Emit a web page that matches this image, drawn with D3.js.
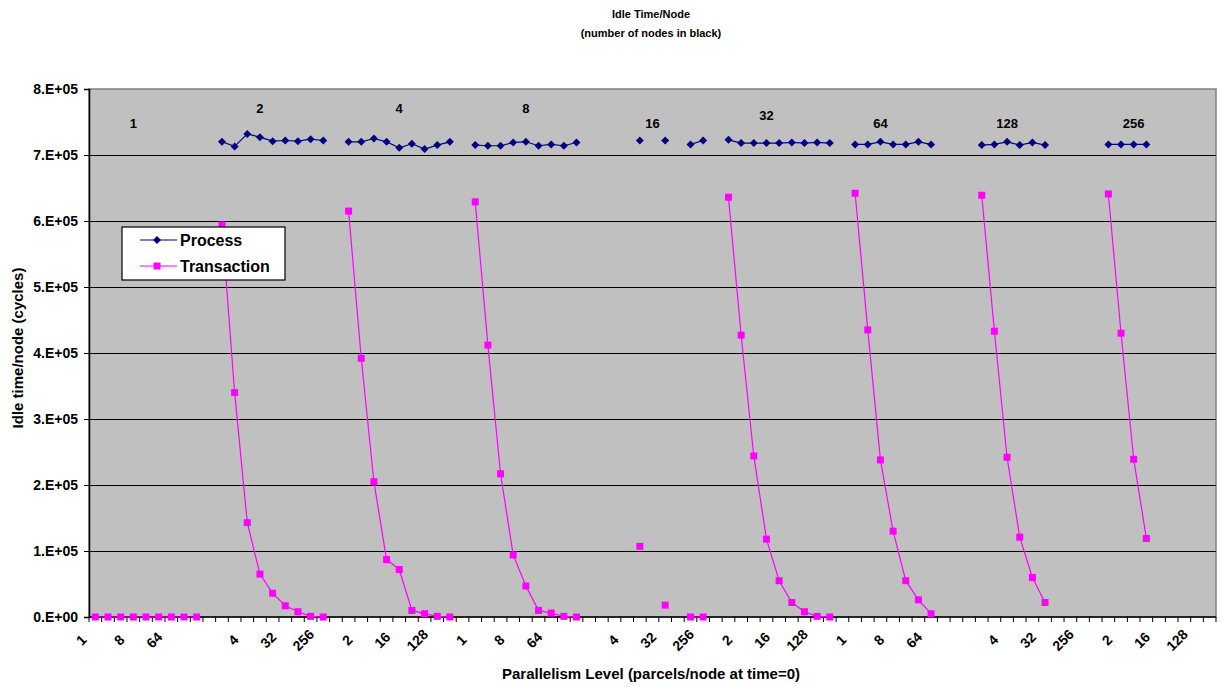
<!DOCTYPE html>
<html>
<head>
<meta charset="utf-8">
<script src="https://cdn.jsdelivr.net/npm/d3@7"></script>
<style>
  body { margin: 0; background: #fff; }
  svg { display: block; font-family: "Liberation Sans", Arial, sans-serif; }
</style>
</head>
<body>
<svg id="chart" width="1223" height="687"></svg>
<script>
// node counts (one group per count) and parallelism levels inside a group
const nodeCounts = [1, 2, 4, 8, 16, 32, 64, 128, 256];
const parLevels = [1, 2, 4, 8, 16, 32, 64, 128, 256];

// idle time per node (cycles), one row per node count, null = no run
const processIdle = [
  [null, null, null, null, null, null, null, null, null],
  [7.20e5, 7.13e5, 7.32e5, 7.27e5, 7.21e5, 7.22e5, 7.21e5, 7.24e5, 7.22e5],
  [7.20e5, 7.20e5, 7.25e5, 7.20e5, 7.11e5, 7.17e5, 7.09e5, 7.15e5, 7.20e5],
  [7.15e5, 7.14e5, 7.14e5, 7.19e5, 7.20e5, 7.14e5, 7.16e5, 7.14e5, 7.19e5],
  [null, null, null, 7.22e5, null, 7.22e5, null, 7.16e5, 7.22e5],
  [7.23e5, 7.18e5, 7.18e5, 7.18e5, 7.18e5, 7.19e5, 7.18e5, 7.19e5, 7.18e5],
  [7.16e5, 7.16e5, 7.20e5, 7.16e5, 7.16e5, 7.20e5, 7.16e5, null, null],
  [7.15e5, 7.16e5, 7.20e5, 7.15e5, 7.19e5, 7.15e5, null, null, null],
  [7.16e5, 7.16e5, 7.16e5, 7.16e5, null, null, null, null, null]
];

const transactionIdle = [
  [0, 0, 0, 0, 0, 0, 0, 0, 0],
  [5.94e5, 3.40e5, 1.43e5, 0.65e5, 0.36e5, 0.17e5, 0.08e5, 0.01e5, 0],
  [6.15e5, 3.92e5, 2.05e5, 0.87e5, 0.72e5, 0.10e5, 0.05e5, 0.01e5, 0],
  [6.29e5, 4.12e5, 2.17e5, 0.94e5, 0.47e5, 0.10e5, 0.06e5, 0.01e5, 0],
  [null, null, null, 1.07e5, null, 0.18e5, null, 0, 0],
  [6.36e5, 4.27e5, 2.44e5, 1.18e5, 0.55e5, 0.22e5, 0.08e5, 0.01e5, 0],
  [6.42e5, 4.35e5, 2.38e5, 1.30e5, 0.55e5, 0.26e5, 0.05e5, null, null],
  [6.39e5, 4.33e5, 2.42e5, 1.21e5, 0.60e5, 0.22e5, null, null, null],
  [6.41e5, 4.30e5, 2.39e5, 1.19e5, null, null, null, null, null]
];

const yTicks = [0, 1e5, 2e5, 3e5, 4e5, 5e5, 6e5, 7e5, 8e5];

// where the node count labels sit: slot inside the group, height in cycles
const nodeLabelSlot = [3, 3, 4, 4, 4, 3, 2, 2, 2];
const nodeLabelLevel = [7.48e5, 7.7e5, 7.7e5, 7.7e5, 7.48e5, 7.6e5, 7.48e5, 7.48e5, 7.48e5];

const margin = { top: 89, right: 7, bottom: 70, left: 89 };
const W = 1223, H = 687;
const width = W - margin.left - margin.right;
const height = H - margin.top - margin.bottom;

// every group = 9 parallelism levels + one empty slot (not after the last group)
const categories = [];
const rows = [];
nodeCounts.forEach((n, g) => {
  parLevels.forEach((p, i) => {
    categories.push({ key: g + "-" + i, label: String(p) });
    rows.push({ key: g + "-" + i, process: processIdle[g][i], transaction: transactionIdle[g][i] });
  });
  if (g < nodeCounts.length - 1) {
    categories.push({ key: g + "-gap", label: "" });
    rows.push({ key: g + "-gap", process: null, transaction: null });
  }
});

const svg = d3.select("#chart");

const x = d3.scaleBand()
  .domain(categories.map(d => d.key))
  .range([0, width]);

const y = d3.scaleLinear()
  .domain([0, 8e5])
  .range([height, 0]);

const cx = key => x(key) + x.bandwidth() / 2;

const g = svg.append("g")
  .attr("transform", "translate(" + margin.left + "," + margin.top + ")");

// plot area
g.append("rect")
  .attr("width", width)
  .attr("height", height)
  .attr("fill", "#c0c0c0")
  .attr("stroke", "#808080")
  .attr("stroke-width", 1.5);

// gridlines
g.append("g")
  .selectAll("line")
  .data(yTicks.filter(d => d > 0 && d < 8e5))
  .enter()
  .append("line")
  .attr("x1", 0)
  .attr("x2", width)
  .attr("y1", d => Math.round(y(d)) + 0.5)
  .attr("y2", d => Math.round(y(d)) + 0.5)
  .attr("stroke", "#000")
  .attr("stroke-width", 1.2);

// y axis
const yAxis = g.append("g")
  .call(d3.axisLeft(y)
    .tickValues(yTicks)
    .tickSize(5)
    .tickPadding(6)
    .tickFormat(d => (d / 1e5).toFixed(0) + ".E+" + (d === 0 ? "00" : "05")));
yAxis.select(".domain").attr("stroke-width", 1.5);
yAxis.selectAll("text")
  .attr("font-size", 14)
  .attr("font-weight", "bold")
  .attr("fill", "#000");

// x axis: ticks between categories, labels every third slot
const xAxis = g.append("g")
  .attr("transform", "translate(0," + height + ")");
xAxis.append("line")
  .attr("x1", 0).attr("x2", width)
  .attr("stroke", "#000")
  .attr("stroke-width", 1.5);
xAxis.selectAll("line.tick")
  .data(categories)
  .enter()
  .append("line")
  .attr("class", "tick")
  .attr("x1", d => x(d.key))
  .attr("x2", d => x(d.key))
  .attr("y1", 0)
  .attr("y2", 5)
  .attr("stroke", "#000");
xAxis.append("line")
  .attr("x1", width).attr("x2", width)
  .attr("y1", 0).attr("y2", 5)
  .attr("stroke", "#000");

xAxis.selectAll("text")
  .data(categories.filter((d, i) => i % 3 === 0 && d.label))
  .enter()
  .append("text")
  .attr("transform", d => "translate(" + (cx(d.key) - 11 - 3 * d.label.length) + ",23) rotate(-45)")
  .attr("dy", "0.35em")
  .attr("text-anchor", "middle")
  .attr("font-size", 14)
  .attr("font-weight", "bold")
  .text(d => d.label);

// series
const series = [
  { name: "Process", field: "process", color: "#000080", symbol: d3.symbolSquare, size: 32, rot: 45 },
  { name: "Transaction", field: "transaction", color: "#ff00ff", symbol: d3.symbolSquare, size: 49, rot: 0 }
];

series.forEach(s => {
  const line = d3.line()
    .defined(d => d[s.field] !== null)
    .x(d => cx(d.key))
    .y(d => y(d[s.field]));

  g.append("path")
    .datum(rows)
    .attr("d", line)
    .attr("fill", "none")
    .attr("stroke", s.color)
    .attr("stroke-width", 1.2);

  g.append("g")
    .selectAll("path")
    .data(rows.filter(d => d[s.field] !== null))
    .enter()
    .append("path")
    .attr("d", d3.symbol().type(s.symbol).size(s.size))
    .attr("transform", d => "translate(" + cx(d.key) + "," + y(d[s.field]) + ") rotate(" + s.rot + ")")
    .attr("fill", s.color);
});

// node count labels above groups
g.append("g")
  .selectAll("text")
  .data(nodeCounts)
  .enter()
  .append("text")
  .attr("x", (d, i) => cx(i + "-" + nodeLabelSlot[i]))
  .attr("y", (d, i) => y(nodeLabelLevel[i]))
  .attr("dy", "0.35em")
  .attr("text-anchor", "middle")
  .attr("font-size", 13)
  .attr("font-weight", "bold")
  .text(d => d);

// legend
const legend = svg.append("g").attr("transform", "translate(122,227)");
legend.append("rect")
  .attr("width", 163)
  .attr("height", 53)
  .attr("fill", "#fff")
  .attr("stroke", "#000")
  .attr("stroke-width", 1.2);
series.forEach((s, i) => {
  const row = legend.append("g").attr("transform", "translate(0," + (13 + i * 26) + ")");
  row.append("line")
    .attr("x1", 18).attr("x2", 55)
    .attr("stroke", s.color)
    .attr("stroke-width", 1.2);
  row.append("path")
    .attr("d", d3.symbol().type(s.symbol).size(s.size))
    .attr("transform", "translate(35,0) rotate(" + s.rot + ")")
    .attr("fill", s.color);
  row.append("text")
    .attr("x", 58)
    .attr("dy", "0.35em")
    .attr("font-size", 16)
    .attr("font-weight", "bold")
    .text(s.name);
});

// titles
svg.append("text")
  .attr("x", 651).attr("y", 14)
  .attr("dy", "0.35em")
  .attr("text-anchor", "middle")
  .attr("font-size", 11)
  .attr("font-weight", "bold")
  .text("Idle Time/Node");
svg.append("text")
  .attr("x", 651).attr("y", 33)
  .attr("dy", "0.35em")
  .attr("text-anchor", "middle")
  .attr("font-size", 11)
  .attr("font-weight", "bold")
  .text("(number of nodes in black)");

svg.append("text")
  .attr("x", 651).attr("y", 674)
  .attr("dy", "0.35em")
  .attr("text-anchor", "middle")
  .attr("font-size", 15)
  .attr("font-weight", "bold")
  .text("Parallelism Level (parcels/node at time=0)");

svg.append("text")
  .attr("transform", "translate(18," + (margin.top + height / 2 - 5) + ") rotate(-90)")
  .attr("dy", "0.35em")
  .attr("text-anchor", "middle")
  .attr("font-size", 15)
  .attr("font-weight", "bold")
  .text("Idle time/node (cycles)");
</script>
</body>
</html>
